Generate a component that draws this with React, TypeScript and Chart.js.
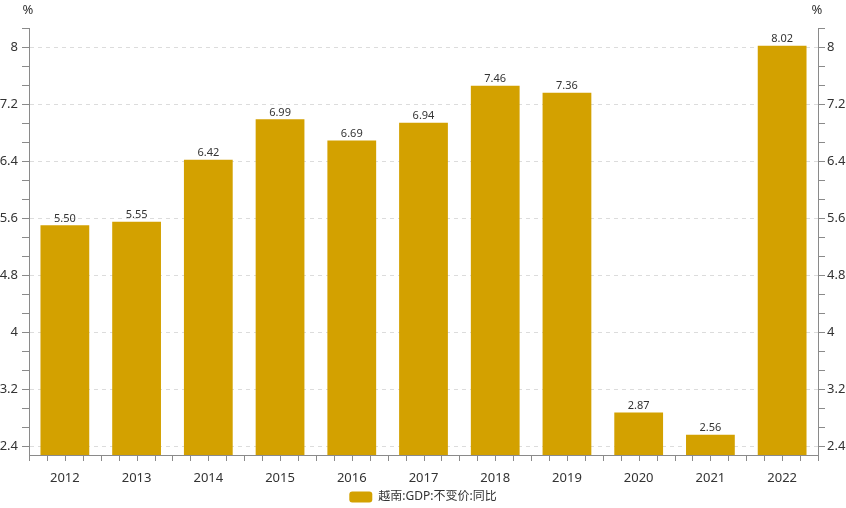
import React, { useEffect, useRef } from 'react';
import { Chart, registerables } from 'chart.js';
Chart.register(...registerables);

const categories = ['2012', '2013', '2014', '2015', '2016', '2017', '2018', '2019', '2020', '2021', '2022'];
const values = [5.5, 5.55, 6.42, 6.99, 6.69, 6.94, 7.46, 7.36, 2.87, 2.56, 8.02];
const seriesName = '越南:GDP:不变价:同比';
const majorTicks = [2.4, 3.2, 4, 4.8, 5.6, 6.4, 7.2, 8];
const majorTickLabels = ['2.4', '3.2', '4', '4.8', '5.6', '6.4', '7.2', '8'];
const axisMin = 2.274;
const axisMax = 8.27;
const minorPerMajor = 3;
const unitLabel = '%';

const FONT = '"Noto Sans", "Noto Sans CJK SC", sans-serif';
const BAR_COLOR = '#D3A100';
const TEXT = '#333333';
const AXIS = '#8a8a8a';

function allTicks(): number[] {
  const step = (majorTicks[1] - majorTicks[0]) / minorPerMajor;
  const out: number[] = [];
  for (const m of majorTicks) {
    for (let k = -minorPerMajor + 1; k < minorPerMajor; k++) {
      const v = +(m + k * step).toFixed(5);
      if (v >= axisMin && v <= axisMax && !out.some((o) => Math.abs(o - v) < 1e-4)) out.push(v);
    }
  }
  return out.sort((a, b) => a - b);
}

function majorIndex(v: number): number {
  return majorTicks.findIndex((m) => Math.abs(m - v) < 1e-4);
}

const extrasPlugin = {
  id: 'extras',
  afterLayout(chart: any) {
    if (chart.legend) {
      chart.legend.top += 5;
      chart.legend.bottom += 5;
    }
  },
  afterDraw(chart: any) {
    const { ctx } = chart;
    const x = chart.scales.x;
    const yl = chart.scales.y;
    const yr = chart.scales.y2;
    ctx.save();
    ctx.strokeStyle = AXIS;
    ctx.lineWidth = 1;
    const n = categories.length;
    const w = (x.right - x.left) / n;
    ctx.beginPath();
    for (let j = 0; j <= n * 4; j++) {
      const px = Math.round(x.left + (j * w) / 4) + 0.5;
      ctx.moveTo(px, x.top);
      ctx.lineTo(px, x.top + 6);
    }
    ctx.stroke();
    ctx.fillStyle = TEXT;
    ctx.font = `11px ${FONT}`;
    ctx.textAlign = 'center';
    ctx.textBaseline = 'bottom';
    const meta = chart.getDatasetMeta(0);
    meta.data.forEach((bar: any, i: number) => {
      ctx.fillText(values[i].toFixed(2), bar.x, bar.y - 1);
    });
    ctx.font = `13px ${FONT}`;
    ctx.textBaseline = 'middle';
    ctx.fillText(unitLabel, yl.right - 1, 10);
    ctx.fillText(unitLabel, yr.left - 1, 10);
    ctx.restore();
  },
};

const yTickCallback = (value: any) => {
  const i = majorIndex(Number(value));
  return i >= 0 ? majorTickLabels[i] : '';
};

export default function App() {
  const ref = useRef<HTMLCanvasElement>(null);
  useEffect(() => {
    document.body.style.margin = '0';
    const ticks = allTicks();
    const setTicks = (scale: any) => {
      scale.ticks = ticks.map((v) => ({ value: v }));
    };
    const chart = new Chart(ref.current!, {
      type: 'bar',
      data: {
        labels: categories,
        datasets: [
          {
            label: seriesName,
            data: values,
            backgroundColor: BAR_COLOR,
            borderWidth: 0,
            barPercentage: 0.68,
            categoryPercentage: 1,
            yAxisID: 'y',
          },
        ],
      },
      options: {
        responsive: false,
        animation: false,
        layout: { padding: { top: 28, left: 0, right: 0, bottom: 0 } },
        plugins: {
          tooltip: { enabled: false },
          legend: {
            position: 'bottom',
            labels: {
              color: TEXT,
              font: { family: FONT, size: 12 },
              boxWidth: 23,
              boxHeight: 11,
              padding: 1,
              useBorderRadius: true,
              borderRadius: 3,
            },
          },
        },
        scales: {
          x: {
            type: 'category',
            offset: true,
            grid: { display: false },
            border: { display: true, color: AXIS },
            ticks: { color: TEXT, font: { family: FONT, size: 13 }, padding: 7, maxRotation: 0 },
            afterFit: (s: any) => {
              s.height = 30;
            },
          },
          y: {
            type: 'linear',
            position: 'left',
            min: axisMin,
            max: axisMax,
            afterBuildTicks: setTicks,
            afterFit: (s: any) => {
              s.width = 29;
            },
            grid: {
              color: (c: any) => (c.tick && majorIndex(c.tick.value) >= 0 ? '#dcdcdc' : 'rgba(0,0,0,0)'),
              tickColor: AXIS,
              tickLength: 7,
            },
            border: { display: true, color: AXIS, dash: [4, 4] },
            ticks: { color: TEXT, font: { family: FONT, size: 13 }, padding: 4, callback: yTickCallback, autoSkip: false },
          },
          y2: {
            type: 'linear',
            position: 'right',
            min: axisMin,
            max: axisMax,
            afterBuildTicks: setTicks,
            afterFit: (s: any) => {
              s.width = 28;
            },
            grid: { drawOnChartArea: false, color: AXIS, tickColor: AXIS, tickLength: 7 },
            border: { display: true, color: AXIS },
            ticks: { color: TEXT, font: { family: FONT, size: 13 }, padding: 2, callback: yTickCallback, autoSkip: false },
          },
        },
      },
      plugins: [extrasPlugin],
    } as any);
    return () => chart.destroy();
  }, []);
  return <canvas ref={ref} width={846} height={508} style={{ display: 'block', width: 846, height: 508 }} />;
}
